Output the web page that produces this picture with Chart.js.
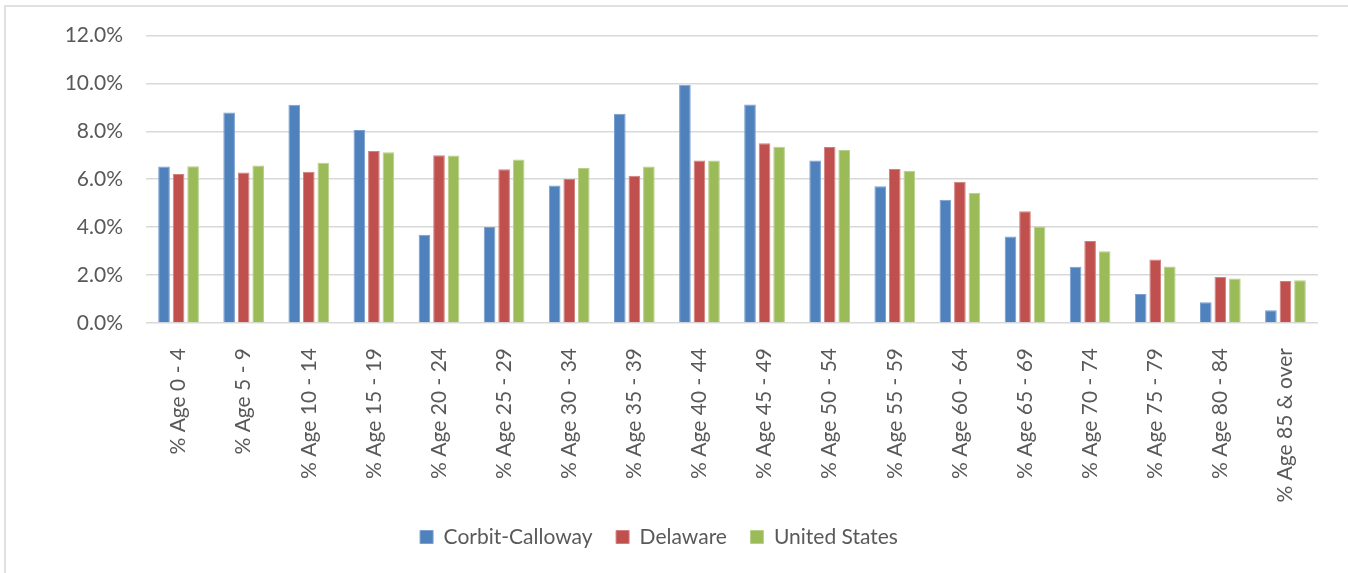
<!DOCTYPE html>
<html>
<head>
<meta charset="utf-8">
<script src="https://cdn.jsdelivr.net/npm/chart.js@4"></script>
<style>
  html, body { margin: 0; padding: 0; background: #fff; overflow: hidden; }
  #frame { position: absolute; left: 4px; top: 5px; width: 2000px; height: 2000px; border: 2px solid #e0e0e0; }
  #wrap { position: absolute; left: 0; top: 0; width: 1348px; height: 573px; }
</style>
</head>
<body>
<div id="frame"></div>
<div id="wrap"><canvas id="ageChart"></canvas></div>
<script>
var ageGroups = ['% Age 0 - 4', '% Age 5 - 9', '% Age 10 - 14', '% Age 15 - 19', '% Age 20 - 24',
    '% Age 25 - 29', '% Age 30 - 34', '% Age 35 - 39', '% Age 40 - 44', '% Age 45 - 49',
    '% Age 50 - 54', '% Age 55 - 59', '% Age 60 - 64', '% Age 65 - 69', '% Age 70 - 74',
    '% Age 75 - 79', '% Age 80 - 84', '% Age 85 & over'];
var corbitCalloway = [6.53, 8.79, 9.11, 8.06, 3.68, 4.01, 5.74, 8.74, 9.95, 9.12, 6.79, 5.71, 5.15, 3.61, 2.35, 1.21, 0.87, 0.53];
var delaware = [6.22, 6.28, 6.32, 7.18, 7.00, 6.42, 6.01, 6.15, 6.78, 7.51, 7.35, 6.43, 5.90, 4.67, 3.42, 2.65, 1.92, 1.75];
var unitedStates = [6.54, 6.58, 6.69, 7.13, 6.99, 6.83, 6.47, 6.53, 6.78, 7.36, 7.22, 6.36, 5.44, 4.03, 3.00, 2.36, 1.86, 1.78];
var yTicks = [0, 2, 4, 6, 8, 10, 12];

var textColor = '#595959';
var fontFamily = 'Lato, "Noto Sans", sans-serif';
var fontSize = 21;

var ctx = document.getElementById('ageChart').getContext('2d');
var chart = new Chart(ctx, {
    type: 'bar',
    data: {
        labels: ageGroups,
        datasets: [{
            label: 'Corbit-Calloway',
            data: corbitCalloway,
            backgroundColor: '#4F81BD',
            borderColor: '#7A9FD0',
            borderWidth: 1
        }, {
            label: 'Delaware',
            data: delaware,
            backgroundColor: '#C0504D',
            borderColor: '#D47F7D',
            borderWidth: 1
        }, {
            label: 'United States',
            data: unitedStates,
            backgroundColor: '#9BBB59',
            borderColor: '#B7D08A',
            borderWidth: 1
        }]
    },
    options: {
        responsive: true,
        maintainAspectRatio: false,
        animation: false,
        datasets: {
            bar: { categoryPercentage: 0.67, barPercentage: 0.8 }
        },
        layout: { padding: { top: 34, right: 30, bottom: 15.5, left: 0 } },
        plugins: {
            title: { display: false },
            tooltip: { enabled: false },
            legend: {
                position: 'bottom',
                labels: {
                    color: textColor,
                    font: { family: fontFamily, size: fontSize },
                    boxWidth: 13,
                    boxHeight: 13,
                    padding: 23.5
                }
            }
        },
        scales: {
            x: {
                grid: { display: false },
                border: { display: false },
                ticks: {
                    color: textColor,
                    font: { family: fontFamily, size: fontSize },
                    minRotation: 90,
                    maxRotation: 90,
                    padding: 17
                },
                afterFit: function (scale) { scale.height = 180; }
            },
            y: {
                min: 0,
                max: 12,
                afterBuildTicks: function (scale) {
                    scale.ticks = yTicks.map(function (v) { return { value: v }; });
                },
                grid: { color: '#D9D9D9', lineWidth: 1.6, drawTicks: false },
                border: { display: false },
                ticks: {
                    color: textColor,
                    font: { family: fontFamily, size: fontSize },
                    padding: 23,
                    callback: function (value) { return value.toFixed(1) + '%'; }
                },
                afterFit: function (scale) { scale.width = 146; }
            }
        }
    }
});
</script>
</body>
</html>
